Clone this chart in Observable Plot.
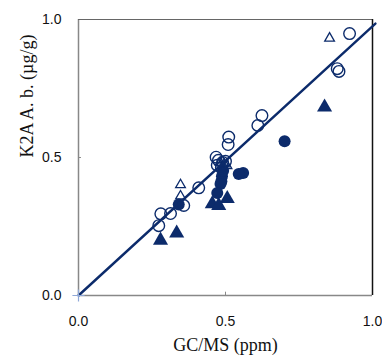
<!DOCTYPE html>
<html>
<head>
<meta charset="utf-8">
<script src="https://cdn.jsdelivr.net/npm/d3@7"></script>
<script src="https://cdn.jsdelivr.net/npm/@observablehq/plot@0.6"></script>
<style>
  html, body { margin: 0; padding: 0; background: #fff; }
</style>
</head>
<body>
<div id="chart"></div>
<script>
const ticks = [0, 0.5, 1.0];
const openCircleX = [0.922, 0.880, 0.886, 0.624, 0.610, 0.511, 0.509, 0.468, 0.476, 0.490, 0.500, 0.472, 0.486, 0.409, 0.358, 0.313, 0.280, 0.273];
const openCircleY = [0.949, 0.822, 0.812, 0.652, 0.616, 0.574, 0.547, 0.501, 0.490, 0.482, 0.486, 0.472, 0.462, 0.390, 0.326, 0.297, 0.296, 0.253];
const openTriX = [0.854, 0.347, 0.347, 0.482, 0.496, 0.505, 0.490];
const openTriY = [0.932, 0.401, 0.360, 0.482, 0.476, 0.470, 0.462];
const fillCircleX = [0.701, 0.560, 0.545, 0.488, 0.486, 0.483, 0.472, 0.341, 0.492];
const fillCircleY = [0.559, 0.444, 0.440, 0.432, 0.414, 0.404, 0.371, 0.330, 0.452];
const fillTriX = [0.837, 0.506, 0.455, 0.477, 0.334, 0.279];
const fillTriY = [0.682, 0.351, 0.332, 0.326, 0.226, 0.200];
const fitX = [0, 1.01];
const fitY = [0, 0.985];

const navy = "#0c2b6b";
const zip = (xs, ys) => xs.map((x, i) => ({x, y: ys[i]}));

const chart = Plot.plot({
  width: 382,
  height: 364,
  marginLeft: 78,
  marginRight: 10,
  marginTop: 19,
  marginBottom: 69,
  x: {domain: [0, 1], label: null},
  y: {domain: [0, 1], label: null},
  style: {fontFamily: "'Liberation Sans', Arial, sans-serif", fontSize: "14px", color: "#111", background: "#fff"},
  marks: [
    Plot.axisX({ticks, tickFormat: d3.format(".1f"), tickSize: 0, tickPadding: 21, fontSize: 14, fill: "#111"}),
    Plot.axisY({ticks, tickFormat: d3.format(".1f"), tickSize: 0, tickPadding: 17, fontSize: 14, fill: "#111"}),
    Plot.ruleX([0.5], {y1: 0, y2: 0.012, stroke: "#888", strokeWidth: 1}),
    Plot.ruleY([0.5], {x1: 0, x2: 0.01, stroke: "#888", strokeWidth: 1}),
    Plot.ruleX([0], {stroke: "#888", strokeWidth: 1.5}),
    Plot.ruleY([0], {stroke: "#888", strokeWidth: 1.5}),
    Plot.ruleY([1], {stroke: "#666", strokeWidth: 1.2}),
    Plot.ruleX([1], {stroke: "#111", strokeWidth: 1.5}),
    Plot.dot(zip(fillCircleX, fillCircleY), {x: "x", y: "y", r: 6, fill: navy, stroke: "none"}),
    Plot.dot(zip(fillTriX, fillTriY), {x: "x", y: "y", r: 5.6, symbol: "triangle", fill: navy, stroke: "none"}),
    Plot.dot(zip(openCircleX, openCircleY), {x: "x", y: "y", r: 5.8, fill: "none", stroke: navy, strokeWidth: 1.4}),
    Plot.dot(zip(openTriX, openTriY), {x: "x", y: "y", r: 3.6, symbol: "triangle", fill: "none", stroke: navy, strokeWidth: 1.3}),
    Plot.line(zip(fitX, fitY), {x: "x", y: "y", stroke: navy, strokeWidth: 2.4, clip: false}),
    Plot.dot([{x: 0, y: 0}], {x: "x", y: "y", symbol: "plus", r: 4, stroke: "#8fa8d8", strokeWidth: 1.2}),
    Plot.text(["GC/MS (ppm)"], {frameAnchor: "bottom", dy: 55, fontFamily: "'Liberation Serif', 'Times New Roman', serif", fontSize: 18, fill: "#111"}),
    Plot.text(["K2A A. b. (µg/g)"], {frameAnchor: "left", dx: -51, rotate: -90, fontFamily: "'Liberation Serif', 'Times New Roman', serif", fontSize: 18, fill: "#111"})
  ]
});
document.getElementById("chart").appendChild(chart);
</script>
</body>
</html>
